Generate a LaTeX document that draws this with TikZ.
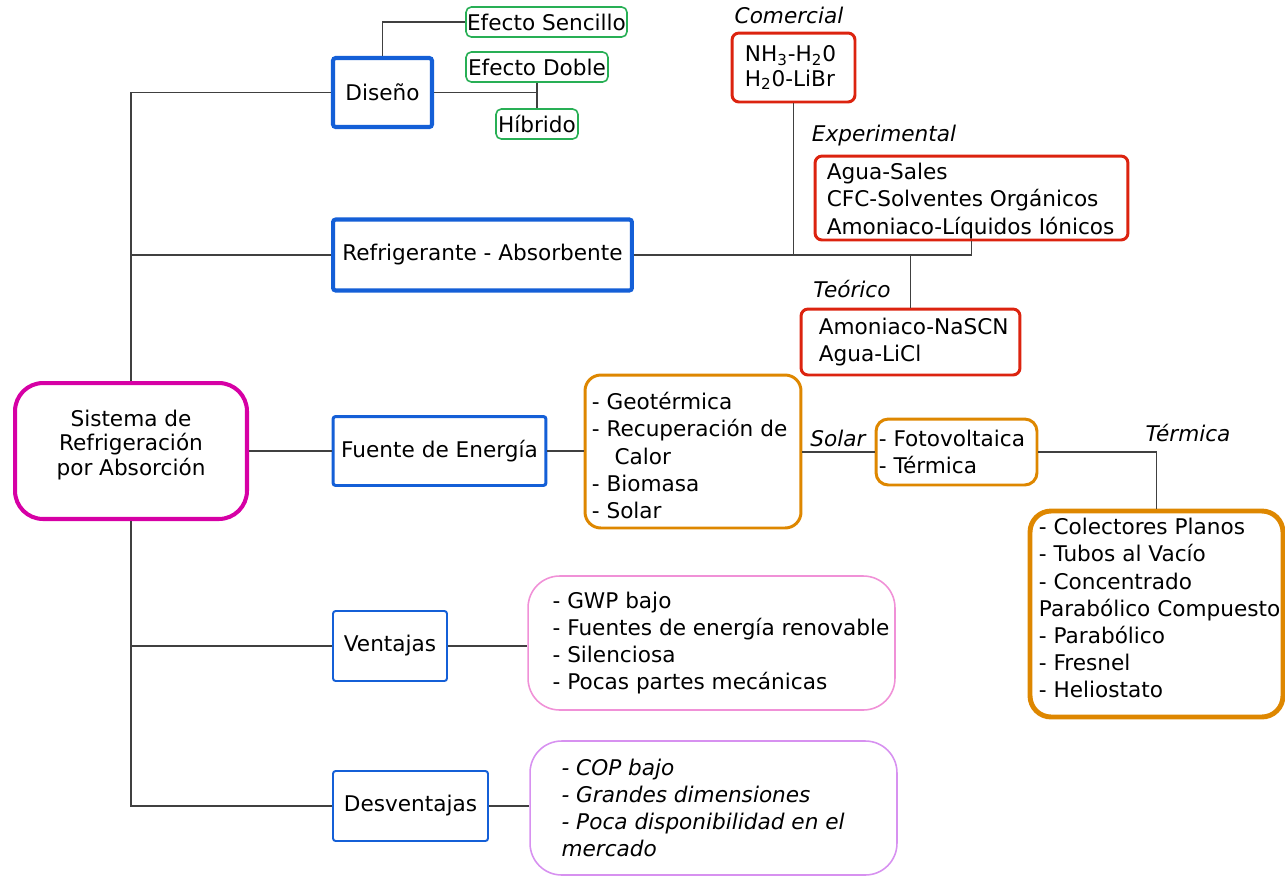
\documentclass[tikz,border=0pt]{standalone}
\usepackage{fontspec}
\setmainfont{DejaVu Sans}
\usetikzlibrary{calc}

\definecolor{catblue}{RGB}{20,95,215}
\definecolor{rootpink}{RGB}{214,0,165}
\definecolor{pairred}{RGB}{220,35,15}
\definecolor{srcorange}{RGB}{222,135,0}
\definecolor{effgreen}{RGB}{40,175,85}
\definecolor{propink}{RGB}{240,145,215}
\definecolor{conlilac}{RGB}{215,145,240}

\begin{document}
\begin{tikzpicture}[x=0.02cm, y=-0.02cm,
	every node/.style={font=\fontsize{12.3}{15.4}\selectfont, inner sep=0pt},
	link/.style={draw=black!75, line width=0.8pt},
	catbox/.style={draw=catblue, line width=#1, fill=white, rounded corners=1.5pt},
	effbox/.style={draw=effgreen, line width=0.9pt, rounded corners=3pt, minimum height=0.6cm},
	pairbox/.style={draw=pairred, line width=1.7pt, rounded corners=4pt},
	srcbox/.style={draw=srcorange, line width=#1, rounded corners=9pt},
	probox/.style={draw=propink, line width=0.9pt, rounded corners=18pt},
	conbox/.style={draw=conlilac, line width=0.9pt, rounded corners=18pt},
	listtxt/.style={anchor=west, align=left},
	kind/.style={font=\fontsize{12.3}{15.4}\selectfont\itshape}]
	\useasboundingbox (0,0) rectangle (1285,877);

	% Root
	\node[draw=rootpink, line width=2.3pt, rounded corners=16pt, minimum width=4.64cm,
		minimum height=2.72cm] (sis) at (131,451) {};
	\node[align=center, font=\fontsize{12.3}{14.2}\selectfont] (sisTxt) at (131,445)
		{Sistema de\\Refrigeración\\por Absorción};

	% Categories
	\node[catbox=2.3pt, minimum width=1.98cm, minimum height=1.38cm] (dis) at (382.5,92.5) {Diseño};
	\node[catbox=2.3pt, minimum width=5.98cm, minimum height=1.42cm] (ref) at (482.5,255) {Refrigerante - Absorbente};
	\node[catbox=1.7pt, minimum width=4.26cm, minimum height=1.38cm] (fue) at (439.5,451) {Fuente de Energía};
	\node[catbox=1.1pt, minimum width=2.28cm, minimum height=1.4cm] (ven) at (390,646) {Ventajas};
	\node[catbox=1.1pt, minimum width=3.1cm, minimum height=1.4cm] (des) at (410.5,806) {Desventajas};

	% Design
	\node[effbox, minimum width=3.22cm] (sen) at (546.5,22) {Efecto Sencillo};
	\node[effbox, minimum width=2.84cm] (dob) at (537,67) {Efecto Doble};
	\node[effbox, minimum width=1.64cm] (hib) at (537,124) {Híbrido};

	% Working pairs
	\node[pairbox, minimum width=2.46cm, minimum height=1.38cm] (com) at (793.5,67.5) {};
	\node[listtxt, font=\fontsize{12.3}{14.2}\selectfont] (comTxt) at ([xshift=0.28cm]com.west)
		{NH\textsubscript{3}-H\textsubscript{2}0\\H\textsubscript{2}0-LiBr};
	\node[pairbox, minimum width=6.26cm, minimum height=1.68cm] (exp) at (971.5,198) {};
	\node[listtxt] (expTxt) at ([xshift=0.26cm, yshift=-0.06cm]exp.west)
		{Agua-Sales\\CFC-Solventes Orgánicos\\Amoniaco-Líquidos Iónicos};
	\node[pairbox, minimum width=4.38cm, minimum height=1.32cm] (teo) at (910.5,342) {};
	\node[listtxt] (teoTxt) at ([xshift=0.38cm]teo.west) {Amoniaco-NaSCN\\Agua-LiCl};
	\node[kind] (comLbl) at (789,15) {Comercial};
	\node[kind] (expLbl) at (884,136) {Experimental};
	\node[kind] (teoLbl) at (852,289) {Teórico};

	% Energy sources
	\node[srcbox=1.7pt, minimum width=4.32cm, minimum height=3.06cm] (src) at (693,451.5) {};
	\node[listtxt] (srcTxt) at ([xshift=0.16cm, yshift=-0.08cm]src.west)
		{- Geotérmica\\- Recuperación de\\\hspace*{1.05em}Calor\\- Biomasa\\- Solar};
	\node[srcbox=1.7pt, rounded corners=7pt, minimum width=3.22cm, minimum height=1.32cm] (sol) at (956.5,452) {};
	\node[listtxt] (solTxt) at ([xshift=0.08cm]sol.west) {- Fotovoltaica\\- Térmica};
	\node[srcbox=2.8pt, rounded corners=12pt, minimum width=5.06cm, minimum height=4.12cm] (ter) at (1156.5,614) {};
	\node[listtxt] (terTxt) at ([xshift=0.22cm, yshift=0.12cm]ter.west)
		{- Colectores Planos\\- Tubos al Vacío\\- Concentrado\\Parabólico Compuesto\\- Parabólico\\- Fresnel\\- Heliostato};
	\node[kind] (solLbl) at (838,438) {Solar};
	\node[kind] (terLbl) at (1188,433) {Térmica};

	% Pros and cons
	\node[probox, minimum width=7.34cm, minimum height=2.68cm] (pro) at (711.5,643) {};
	\node[listtxt] (proTxt) at ([xshift=0.5cm]pro.west)
		{- GWP bajo\\- Fuentes de energía renovable\\- Silenciosa\\- Pocas partes mecánicas};
	\node[conbox, minimum width=7.34cm, minimum height=2.68cm] (con) at (713.5,808) {};
	\node[listtxt, font=\fontsize{12.3}{15.4}\selectfont\itshape] (conTxt) at ([xshift=0.64cm]con.west)
		{- COP bajo\\- Grandes dimensiones\\- Poca disponibilidad en el\\mercado};

	% Connectors
	\draw[link] (sis.north) |- (dis.west);
	\draw[link] (sis.north) |- (ref.west);
	\draw[link] (sis.east) -- (fue.west);
	\draw[link] (sis.south) |- (ven.west);
	\draw[link] (sis.south) |- (des.west);
	\draw[link] (dis.north) |- (sen.west);
	\draw[link] (dis.east) -- (dis.east -| dob.south);
	\draw[link] (dob.south) -- (hib.north);
	\draw[link] (ref.east) -| (exp.south);
	\draw[link] (com.south) -- (com.south |- ref.east);
	\draw[link] (teo.north) -- (teo.north |- ref.east);
	\draw[link] (fue.east) -- (fue.east -| src.west);
	\draw[link] (src.east |- sol.west) -- (sol.west);
	\draw[link] (sol.east) -| (ter.north);
	\draw[link] (ven.east) -- (ven.east -| pro.west);
	\draw[link] (des.east) -- (des.east -| con.west);
\end{tikzpicture}
\end{document}
